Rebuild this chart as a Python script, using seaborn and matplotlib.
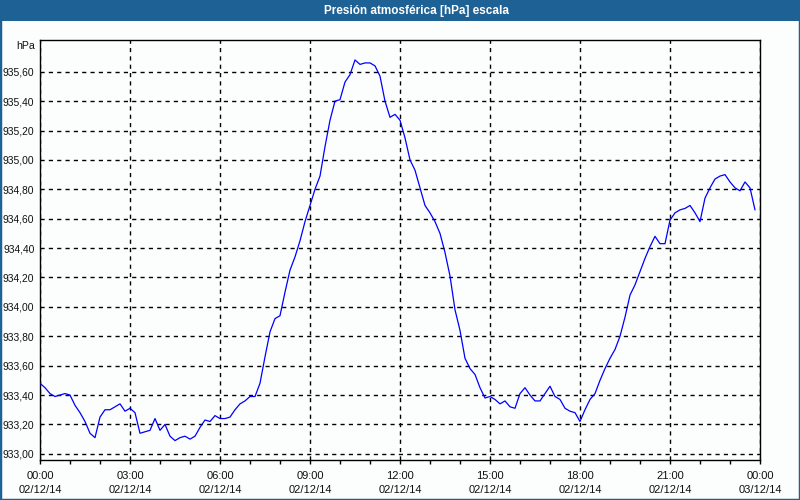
import numpy as np
import pandas as pd
import matplotlib
matplotlib.use("Agg")
import matplotlib.pyplot as plt
from matplotlib.patches import Rectangle
import seaborn as sns

# Pressure readings every 10 minutes, 02/12/14 00:00 .. 23:50 (hPa)
pressure = [
    933.48, 933.45, 933.41, 933.39, 933.40, 933.41, 933.40, 933.33, 933.28, 933.22,
    933.14, 933.11, 933.25, 933.30, 933.30, 933.32, 933.34, 933.29, 933.31, 933.28,
    933.14, 933.15, 933.16, 933.24, 933.16, 933.20, 933.12, 933.09, 933.11, 933.12,
    933.10, 933.12, 933.18, 933.23, 933.22, 933.26, 933.24, 933.24, 933.25, 933.30,
    933.34, 933.36, 933.39, 933.39, 933.48, 933.66, 933.83, 933.92, 933.94, 934.10,
    934.25, 934.34, 934.45, 934.58, 934.69, 934.80, 934.89, 935.09, 935.27, 935.40,
    935.41, 935.53, 935.58, 935.68, 935.65, 935.66, 935.66, 935.64, 935.57, 935.40,
    935.29, 935.31, 935.27, 935.15, 935.00, 934.93, 934.81, 934.69, 934.64, 934.58,
    934.50, 934.37, 934.21, 933.98, 933.84, 933.65, 933.58, 933.54, 933.45, 933.38,
    933.39, 933.37, 933.34, 933.36, 933.32, 933.31, 933.41, 933.45, 933.40, 933.36,
    933.36, 933.41, 933.46, 933.39, 933.37, 933.31, 933.29, 933.28, 933.22, 933.30,
    933.37, 933.41, 933.50, 933.58, 933.65, 933.71, 933.80, 933.93, 934.08, 934.15,
    934.24, 934.33, 934.41, 934.48, 934.43, 934.43, 934.59, 934.64, 934.66, 934.67,
    934.69, 934.64, 934.58, 934.74, 934.81, 934.87, 934.89, 934.90, 934.85, 934.81,
    934.79, 934.85, 934.81, 934.66,
]
sample_minutes = 10
hours = np.arange(len(pressure)) * sample_minutes / 60.0

x_tick_hours = [0, 3, 6, 9, 12, 15, 18, 21, 24]
x_tick_labels = [
    "00:00\n02/12/14", "03:00\n02/12/14", "06:00\n02/12/14", "09:00\n02/12/14",
    "12:00\n02/12/14", "15:00\n02/12/14", "18:00\n02/12/14", "21:00\n02/12/14",
    "00:00\n03/12/14",
]
y_ticks = [933.0, 933.2, 933.4, 933.6, 933.8, 934.0, 934.2, 934.4, 934.6,
           934.8, 935.0, 935.2, 935.4, 935.6]
y_tick_labels = [f"{v:.2f}".replace(".", ",") for v in y_ticks]

title = "Presión atmosférica [hPa] escala"
unit = "hPa"

df = pd.DataFrame({"hour": hours, "pressure": pressure})

sns.set_style("white")
plt.rcParams["font.family"] = ["Liberation Sans", "DejaVu Sans"]

BLUE_BAR = "#1d6195"
W, H = 800, 500
fig = plt.figure(figsize=(8, 5), dpi=100, facecolor="#fcfdfd")
ax = fig.add_axes([40 / W, 1 - 460 / H, 720 / W, 420 / H])
ax.set_facecolor("#fcfdfd")

sns.lineplot(data=df, x="hour", y="pressure", ax=ax, color="#0000ff",
             linewidth=0.9, zorder=3)

ax.set_xlim(0, 24)
ax.set_ylim(932.958, 935.816)

ax.set_xticks(x_tick_hours)
ax.set_xticklabels(x_tick_labels, fontsize=8, linespacing=1.45, color="#111111")
ax.set_xticks(np.arange(0, 25, 1), minor=True)
ax.tick_params(axis="x", which="both", direction="out", length=3, width=1,
               color="black", pad=5, bottom=True)
ax.set_yticks(y_ticks)
ax.set_yticklabels(y_tick_labels, fontsize=7.4, color="#111111")
ax.tick_params(axis="y", length=0, pad=4, left=True)

ax.grid(True, which="major", linestyle=(0, (3, 3)), color="black", linewidth=1)
ax.set_axisbelow(True)
for s in ax.spines.values():
    s.set_visible(True)
    s.set_color("black")
    s.set_linewidth(1)

ax.set_xlabel("")
ax.set_ylabel("")

# unit label
fig.text(35 / W, 1 - 46 / H, unit, ha="right", va="center", fontsize=7.6,
         color="#111111")

# title bar
fig.patches.append(Rectangle((0, 1 - 21 / H), 1, 21 / H, transform=fig.transFigure,
                             facecolor=BLUE_BAR, edgecolor="none", zorder=0))
fig.text(416 / W, 1 - 11 / H, title, ha="center", va="center", fontsize=8.5,
         fontweight="bold", color="white")
# outer frame
fig.patches.append(Rectangle((0, 0), 1, 1, transform=fig.transFigure,
                             facecolor="none", edgecolor=BLUE_BAR, linewidth=2.5,
                             zorder=5))

fig.savefig("out.png", dpi=100, facecolor=fig.get_facecolor())
